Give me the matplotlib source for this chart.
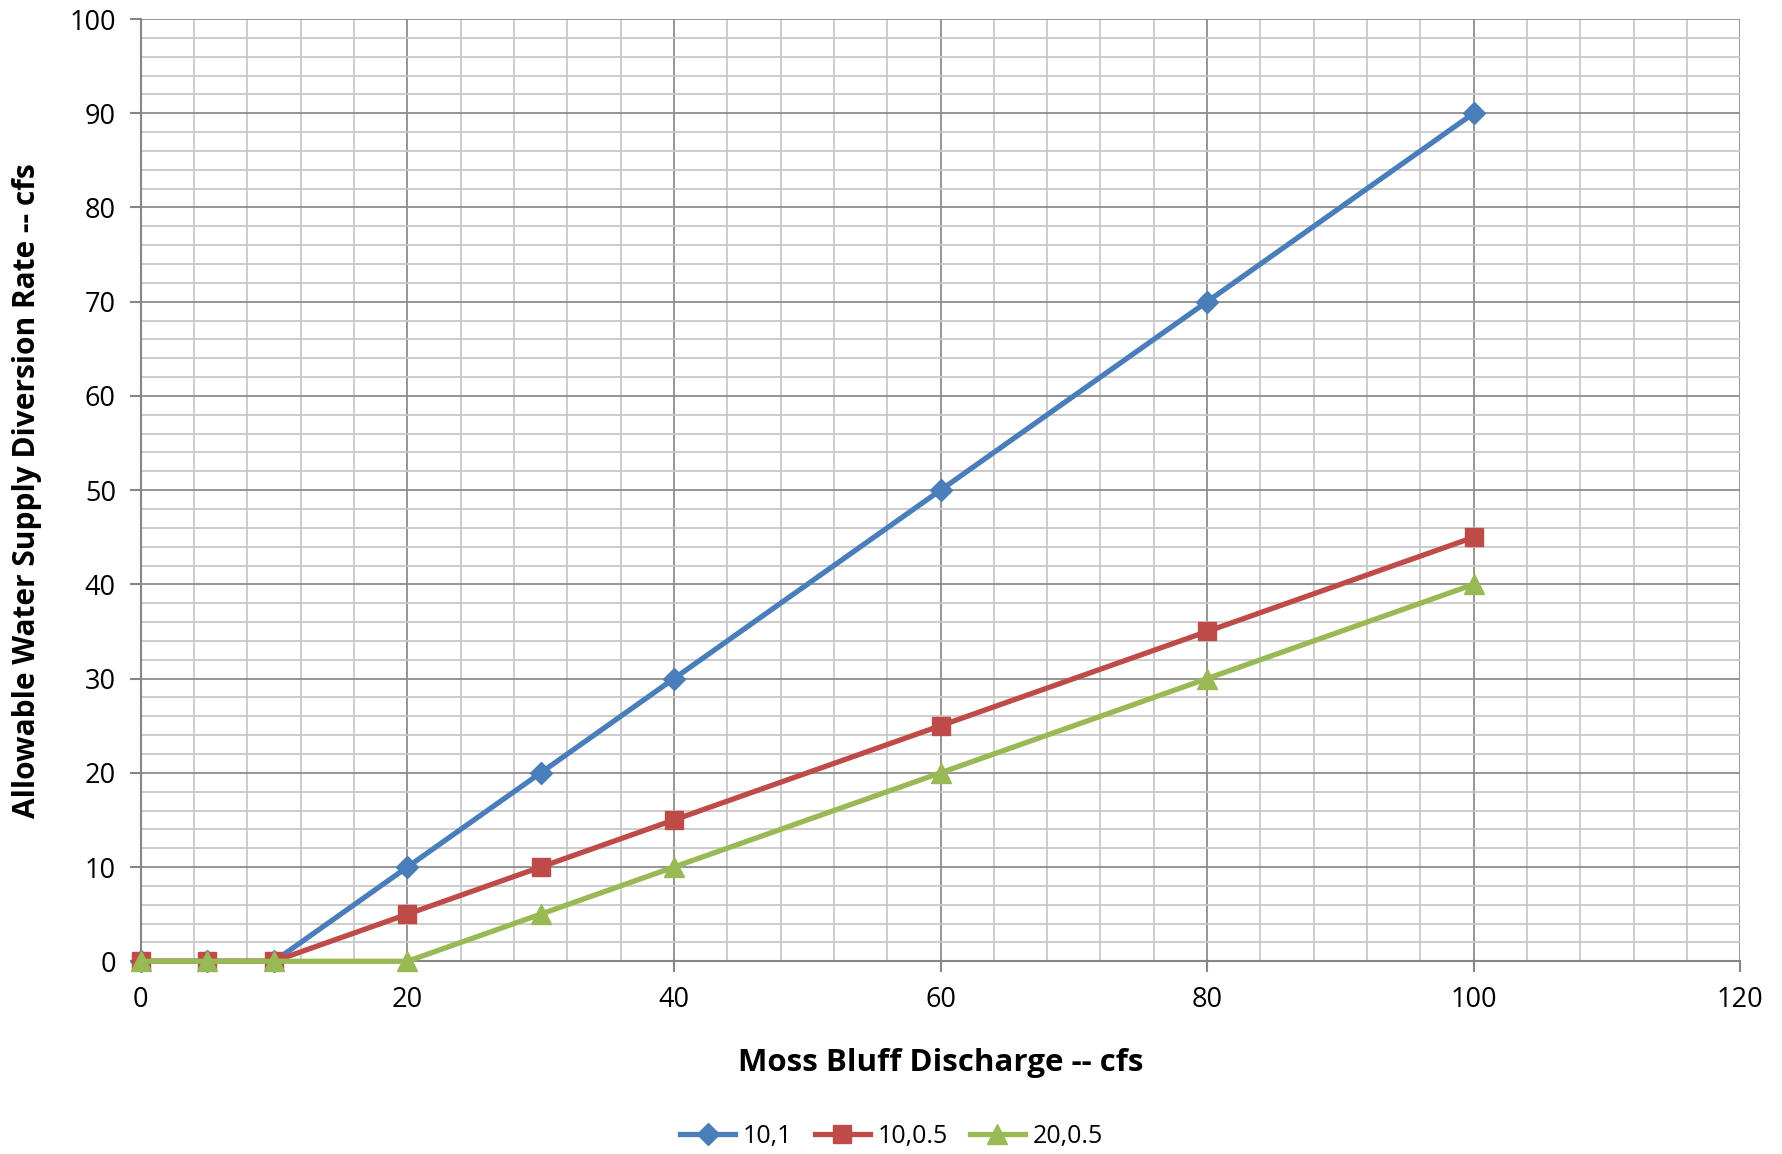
import matplotlib
matplotlib.use('Agg')
from matplotlib import pyplot as plt
from matplotlib.ticker import MultipleLocator

# Moss Bluff discharge (cfs)
discharge = [0, 5, 10, 20, 30, 40, 60, 80, 100]

# allowable diversion for each (threshold, fraction) case
div_10_1 = [0, 0, 0, 10, 20, 30, 50, 70, 90]
div_10_05 = [0, 0, 0, 5, 10, 15, 25, 35, 45]
div_20_05 = [0, 0, 0, 0, 5, 10, 20, 30, 40]

series_labels = ['10,1', '10,0.5', '20,0.5']

plt.rcParams['font.family'] = ['Open Sans', 'DejaVu Sans']

fig = plt.figure(figsize=(17.83, 11.54), dpi=100)
ax = fig.add_axes([0.079, 0.167, 0.897, 0.8165])

ax.plot(discharge, div_10_1, color='#4A7EBB', lw=3.8, marker='D', ms=11,
        label=series_labels[0], clip_on=False, zorder=3)
ax.plot(discharge, div_10_05, color='#BE4B48', lw=3.8, marker='s', ms=13,
        label=series_labels[1], clip_on=False, zorder=4)
ax.plot(discharge, div_20_05, color='#98B954', lw=3.8, marker='^', ms=14,
        label=series_labels[2], clip_on=False, zorder=5)

ax.set_xlim(0, 120)
ax.set_ylim(0, 100)
ax.xaxis.set_major_locator(MultipleLocator(20))
ax.xaxis.set_minor_locator(MultipleLocator(4))
ax.yaxis.set_major_locator(MultipleLocator(10))
ax.yaxis.set_minor_locator(MultipleLocator(2))

ax.grid(which='major', color='#8C8C8C', lw=1.3)
ax.grid(which='minor', color='#C8C8C8', lw=1.3)
ax.set_axisbelow(True)

for s in ['top', 'right']:
    ax.spines[s].set_visible(False)
for s in ['left', 'bottom']:
    ax.spines[s].set_color('#868686')
    ax.spines[s].set_linewidth(1.5)

ax.tick_params(which='major', length=8, width=1.5, color='#868686', labelsize=19.5, pad=10)
ax.tick_params(which='minor', length=0)

ax.set_xlabel('Moss Bluff Discharge -- cfs', fontsize=22.5, fontweight='bold', labelpad=24)
ax.set_ylabel('Allowable Water Supply Diversion Rate -- cfs', fontsize=21.5, fontweight='bold', labelpad=20)

fig.legend(loc='center', bbox_to_anchor=(0.5, 0.015), ncol=3, frameon=False,
           fontsize=18, handlelength=2.2, columnspacing=0.9, handletextpad=0.3)

fig.savefig('out.png', dpi=100)
